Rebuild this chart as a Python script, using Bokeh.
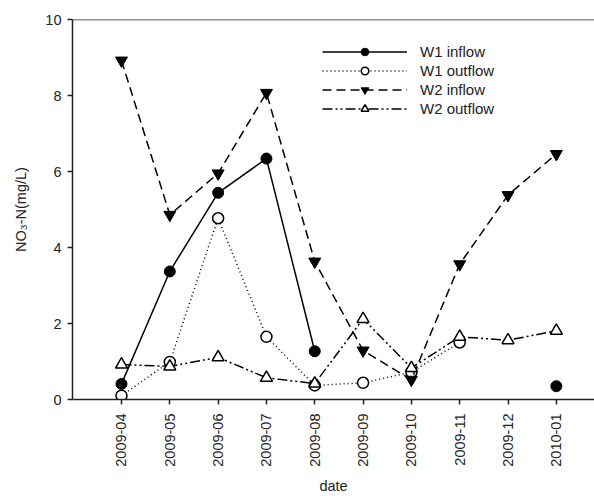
import numpy as np
from bokeh.plotting import figure
from bokeh.models import Range1d, FixedTicker, Span, Legend
from bokeh.embed import file_html
from bokeh.resources import INLINE

nan = float("nan")
dates = ["2009-04", "2009-05", "2009-06", "2009-07", "2009-08",
         "2009-09", "2009-10", "2009-11", "2009-12", "2010-01"]
w1_inflow = [0.41, 3.37, 5.44, 6.34, 1.27, nan, nan, nan, nan, 0.35]
w1_outflow = [0.10, 0.99, 4.77, 1.65, 0.37, 0.44, 0.72, 1.50, nan, nan]
w2_inflow = [8.92, 4.86, 5.95, 8.07, 3.63, 1.29, 0.52, 3.56, 5.38, 6.46]
w2_outflow = [0.92, 0.87, 1.11, 0.57, 0.42, 2.12, 0.83, 1.65, 1.56, 1.81]
y_ticks = [0, 2, 4, 6, 8, 10]

x = list(range(len(dates)))
FONT = "Liberation Sans"

p = figure(width=594, height=496, output_backend="svg", toolbar_location=None,
           x_range=Range1d(-1.014, 9.79), y_range=Range1d(0, 10),
           min_border_left=72, min_border_right=0, min_border_top=19,
           min_border_bottom=10)
p.outline_line_color = None
p.grid.visible = False
p.background_fill_color = "white"

p.add_layout(Span(location=10, dimension="width", line_color="#222222", line_width=1.5))

lw = 1.5
r1l = p.line(x, w1_inflow, line_color="black", line_width=lw)
r1m = p.scatter(x, w1_inflow, marker="circle", size=11, fill_color="black", line_color="black")
r2l = p.line(x, w1_outflow, line_color="black", line_width=lw, line_dash="1 3")
r2m = p.scatter(x, w1_outflow, marker="circle", size=11, fill_color="white", line_color="black", line_width=1.5)
r3l = p.line(x, w2_inflow, line_color="black", line_width=lw, line_dash="9 5")
r3m = p.scatter(x, w2_inflow, marker="inverted_triangle", size=12, fill_color="black", line_color="black")
r4l = p.line(x, w2_outflow, line_color="black", line_width=lw, line_dash="10 3 2 3 2 3")
r4m = p.scatter(x, w2_outflow, marker="triangle", size=12, fill_color="white", line_color="black", line_width=1.5)

legend = Legend(items=[("W1 inflow", [r1l, r1m]), ("W1 outflow", [r2l, r2m]),
                       ("W2 inflow", [r3l, r3m]), ("W2 outflow", [r4l, r4m])],
                location=(250, 281), orientation="vertical")
legend.border_line_color = None
legend.background_fill_alpha = 0
legend.padding = 0
legend.margin = 0
legend.spacing = 0
legend.glyph_width = 85
legend.glyph_height = 19
legend.label_height = 19
legend.label_standoff = 13
legend.label_text_font = FONT
legend.label_text_font_size = "15px"
legend.label_text_color = "#222222"
p.add_layout(legend, "center")

p.xaxis.ticker = FixedTicker(ticks=x)
p.xaxis.major_label_overrides = {i: d for i, d in zip(x, dates)}
p.xaxis.major_label_orientation = np.pi / 2
p.xaxis.axis_label = "date"
p.yaxis.ticker = FixedTicker(ticks=y_ticks)
p.yaxis.axis_label = "NO₃-N(mg/L)"

for ax in (p.xaxis, p.yaxis):
    ax.axis_line_color = "#222222"
    ax.axis_line_width = 1.5
    ax.major_tick_line_color = "#222222"
    ax.major_tick_line_width = 1.5
    ax.major_tick_out = 5
    ax.major_tick_in = 0
    ax.minor_tick_line_color = None
    ax.major_label_text_font = FONT
    ax.major_label_text_font_size = "14.5px"
    ax.major_label_text_color = "#222222"
    ax.axis_label_text_font = FONT
    ax.axis_label_text_font_size = "14.5px"
    ax.axis_label_text_font_style = "normal"
    ax.axis_label_text_color = "#222222"
p.xaxis.major_label_standoff = 9
p.xaxis.axis_label_standoff = 8
p.yaxis.major_label_standoff = 6
p.yaxis.axis_label_standoff = 13

open("out.html", "w").write(file_html(p, INLINE))
